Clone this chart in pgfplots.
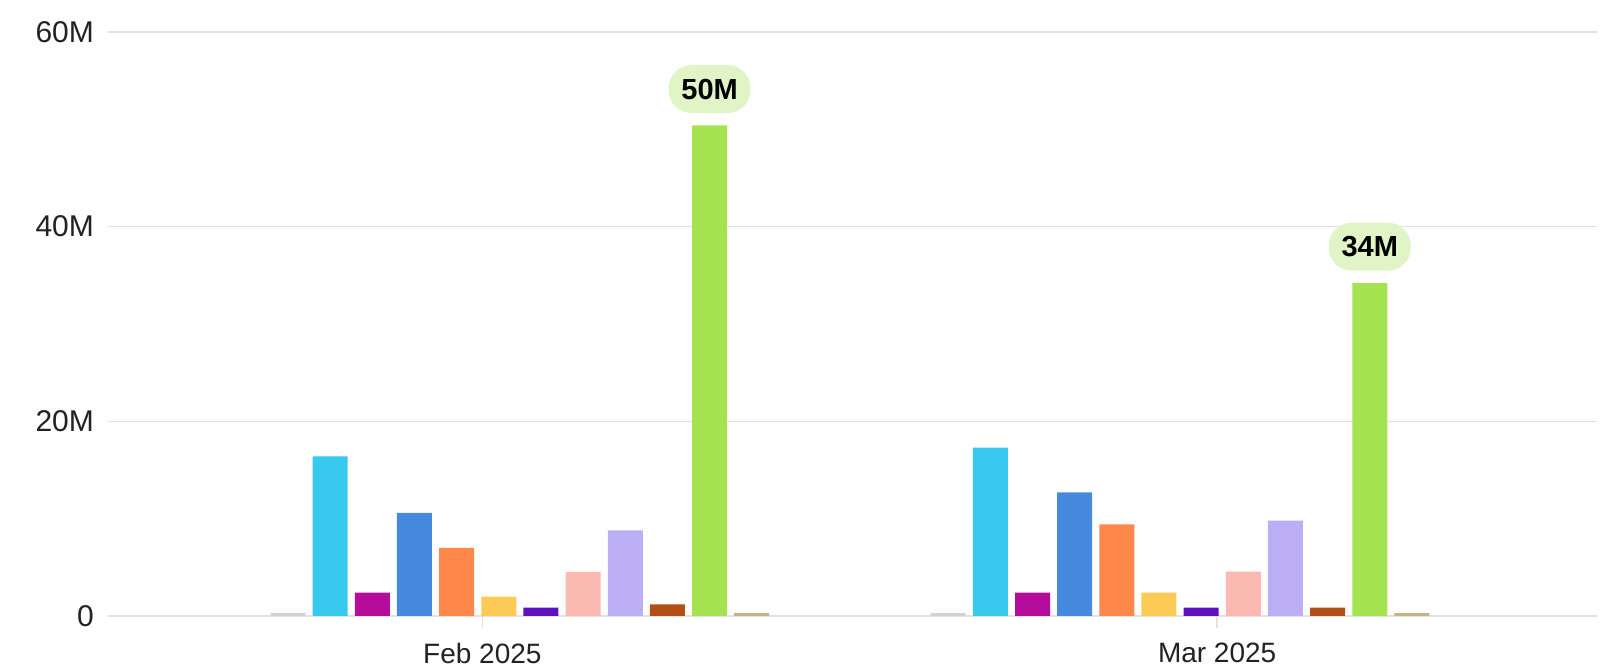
\documentclass[border=0pt]{standalone}
\usepackage{fontspec}
\setmainfont{Liberation Sans}
\usepackage{pgfplots}
\pgfplotsset{compat=1.18}
\usepackage{xcolor}
\definecolor{cGray}{HTML}{D2D2D2}
\definecolor{cCyan}{HTML}{38C9EE}
\definecolor{cMag}{HTML}{B50C9B}
\definecolor{cBlue}{HTML}{468AE0}
\definecolor{cOrange}{HTML}{FE884B}
\definecolor{cYellow}{HTML}{FCCB56}
\definecolor{cPurple}{HTML}{5C10BF}
\definecolor{cPink}{HTML}{FCB9B1}
\definecolor{cLav}{HTML}{BCAEF5}
\definecolor{cBrown}{HTML}{B24F17}
\definecolor{cGreen}{HTML}{A6E350}
\definecolor{cTan}{HTML}{C9B283}
\definecolor{pill}{HTML}{E0F4C6}
\definecolor{gridc}{HTML}{E2E2E2}
\definecolor{txt}{HTML}{222222}

\begin{document}
\begin{tikzpicture}
\path[use as bounding box] (-54pt,-28pt) rectangle (755pt,308pt);
\begin{axis}[
  at={(0,0)}, anchor=south west,
  scale only axis, width=744.5pt, height=292pt,
  xmin=0, xmax=35.32, ymin=0, ymax=60,
  axis line style={draw=none},
  ybar, bar width=0.83, bar shift=0pt,
  xtick={8.88,26.31}, xticklabels={Feb 2025,Mar 2025},
  ytick={0,20,40,60}, yticklabels={0,20M,40M,60M},
  ymajorgrids, grid style={gridc, line width=0.8pt},
  xtick pos=bottom, tick align=outside,
  major tick length=6pt,
  xtick style={gridc, line width=0.8pt},
  ytick style={draw=none},
  tick label style={font=\fontsize{14}{16}\selectfont, text=txt},
  yticklabel style={font=\fontsize{15}{17}\selectfont, xshift=2.5pt},
  xticklabel style={yshift=-4pt},
  clip=false,
]
\addplot[fill=cGray, draw=none] coordinates {(4.27,0.3) (19.93,0.3)};
\addplot[fill=cCyan, draw=none] coordinates {(5.27,16.4) (20.93,17.3)};
\addplot[fill=cMag, draw=none] coordinates {(6.27,2.4) (21.93,2.4)};
\addplot[fill=cBlue, draw=none] coordinates {(7.27,10.6) (22.93,12.7)};
\addplot[fill=cOrange, draw=none] coordinates {(8.27,7.0) (23.93,9.4)};
\addplot[fill=cYellow, draw=none] coordinates {(9.27,2.0) (24.93,2.4)};
\addplot[fill=cPurple, draw=none] coordinates {(10.27,0.85) (25.93,0.85)};
\addplot[fill=cPink, draw=none] coordinates {(11.27,4.5) (26.93,4.55)};
\addplot[fill=cLav, draw=none] coordinates {(12.27,8.8) (27.93,9.8)};
\addplot[fill=cBrown, draw=none] coordinates {(13.27,1.2) (28.93,0.87)};
\addplot[fill=cGreen, draw=none,
  nodes near coords, point meta=explicit symbolic,
  every node near coord/.style={fill=pill, rounded corners=11.5pt,
    font=\fontsize{14.5}{16}\selectfont\bfseries, text=black,
    minimum height=24pt, minimum width=41pt, inner xsep=5pt,
    anchor=south, yshift=6pt}]
  coordinates {(14.27,50.4)[50M] (29.93,34.2)[34M]};
\addplot[fill=cTan, draw=none] coordinates {(15.27,0.3) (30.93,0.3)};
\end{axis}
\end{tikzpicture}
\end{document}
